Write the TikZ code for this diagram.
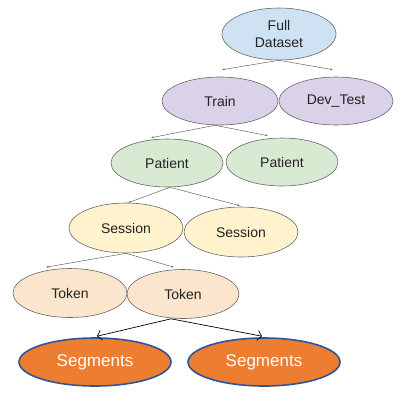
\documentclass[tikz,border=0pt]{standalone}
\usepackage{fontspec}
\setmainfont{Liberation Sans}
\usepackage[dvipsnames, svgnames]{xcolor}
\usetikzlibrary{shapes.geometric, arrows.meta}
\definecolor{FullBlue}{HTML}{CFE2F3}
\definecolor{TrainLilac}{HTML}{D9D2E9}
\definecolor{PatientGreen}{HTML}{D9EAD3}
\definecolor{SessionYellow}{HTML}{FFF2CC}
\definecolor{TokenPeach}{HTML}{FCE5CD}
\definecolor{SegOrange}{HTML}{ED7D31}
\definecolor{SegBlue}{HTML}{2F5597}
\definecolor{EdgeGray}{HTML}{666666}
\definecolor{TextGray}{HTML}{222222}

\begin{document}
\begin{tikzpicture}[x=1pt, y=-1pt,
  blob/.style={ellipse, draw=EdgeGray, line width=0.6pt, inner sep=0pt,
    minimum width=114pt, minimum height=48pt, font=\fontsize{14}{17}\selectfont,
    text=TextGray, align=center},
  segblob/.style={ellipse, draw=SegBlue, fill=SegOrange, line width=1.6pt,
    inner sep=0pt, minimum width=152pt, minimum height=48pt,
    font=\fontsize{17}{20}\selectfont, text=white},
  link/.style={draw=EdgeGray, line width=0.5pt, -{Latex[length=2.5pt,width=2pt]}},
  biglink/.style={draw=black, line width=0.7pt, -{Straight Barb[length=4pt,width=10pt]}}]
  \useasboundingbox (0,0) rectangle (403,400);
  % tree levels, top to bottom
  \node[blob, fill=FullBlue, minimum height=52pt] (full) at (279,34) {Full\\Dataset};
  \node[blob, fill=TrainLilac, minimum width=116pt] (train) at (220,101) {Train};
  \node[blob, fill=TrainLilac] (devtest) at (336,101) {Dev\_Test};
  \node[blob, fill=PatientGreen, minimum width=112pt] (patA) at (167,163) {Patient};
  \node[blob, fill=PatientGreen, minimum width=112pt] (patB) at (282,162) {Patient};
  \node[blob, fill=SessionYellow, minimum height=50pt] (sesA) at (126,228) {Session};
  \node[blob, fill=SessionYellow, minimum height=50pt] (sesB) at (241,232) {Session};
  \node[blob, fill=TokenPeach, minimum height=49pt] (tokA) at (70,293) {Token};
  \node[blob, fill=TokenPeach, minimum width=112pt, minimum height=49pt] (tokB) at (183,294) {Token};
  \node[segblob] (segA) at (95,362) {Segments};
  \node[segblob] (segB) at (264,362) {Segments};
  % connectors
  \draw[link] (full.south) -- ([xshift=2pt, yshift=7pt]train.north);
  \draw[link] (full.south) -- ([xshift=-3pt, yshift=7pt]devtest.north);
  \draw[link] ([xshift=-5pt]train.south) -- ([xshift=-16pt, yshift=1pt]patA.north);
  \draw[link] ([xshift=-5pt]train.south) -- ([xshift=-14pt, yshift=2pt]patB.north);
  \draw[link] ([xshift=3pt]patA.south) -- ([xshift=2pt]sesA.north);
  \draw[link] ([xshift=3pt]patA.south) -- ([xshift=-1pt, yshift=1pt]sesB.north);
  \draw[link] (sesA.south) -- ([xshift=-24pt, yshift=1pt]tokA.north);
  \draw[link] (sesA.south) -- ([xshift=-9pt, yshift=2pt]tokB.north);
  \draw[biglink] ([xshift=-12pt]tokB.south) -- ([xshift=2pt, yshift=1pt]segA.north);
  \draw[biglink] ([xshift=-12pt]tokB.south) -- ([xshift=-2pt, yshift=1pt]segB.north);
\end{tikzpicture}
\end{document}
